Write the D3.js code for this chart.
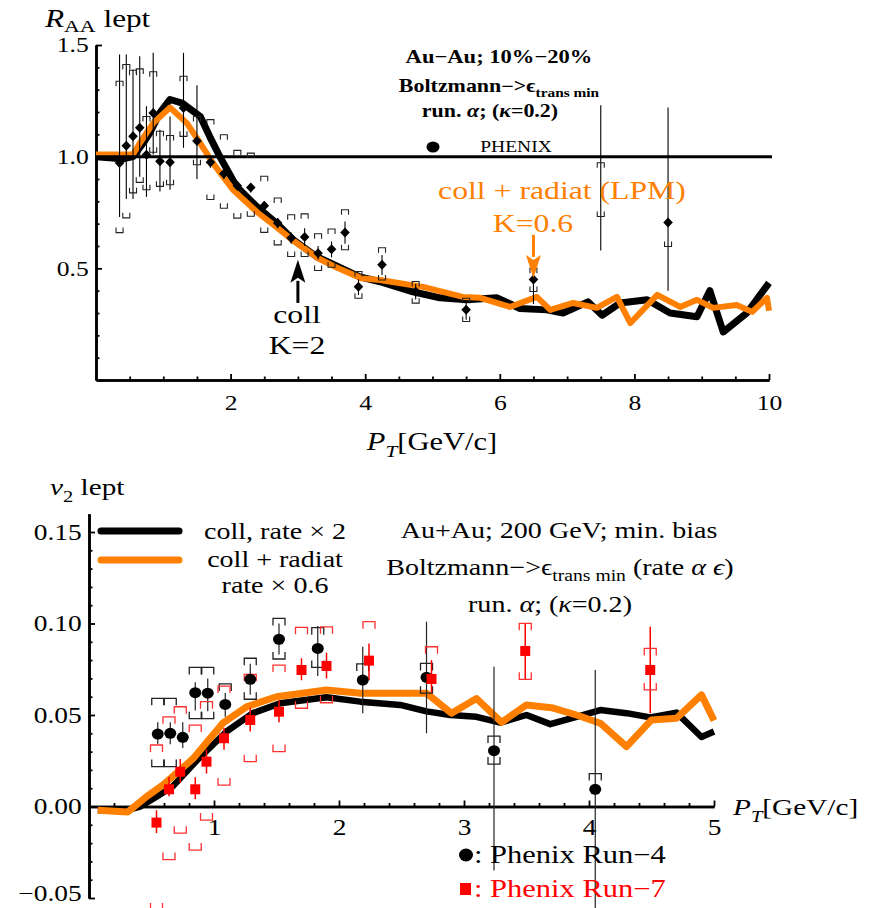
<!DOCTYPE html>
<html>
<head>
<meta charset="utf-8">
<script src="https://cdn.jsdelivr.net/npm/d3@7"></script>
<style>
  body { margin: 0; background: #fff; }
  text { font-family: "Liberation Serif", "Times New Roman", serif; }
</style>
</head>
<body>
<svg id="chart" width="874" height="908"></svg>
<script>
// ---- R_AA panel: model curves ----
var raaCollX = [0, 0.2, 0.4, 0.55, 0.7, 0.8, 0.95, 1.1, 1.28, 1.55, 1.69, 1.84, 2.09, 2.39, 2.69, 2.93, 3.28, 3.48, 3.92, 4.22, 4.71, 5.11, 5.51, 5.96, 6.3, 6.7, 6.94, 7.31, 7.52, 7.79, 8.19, 8.53, 8.93, 9.12, 9.32, 9.67, 10];
var raaCollY = [1.0, 0.995, 0.99, 1.0, 1.06, 1.107, 1.197, 1.256, 1.24, 1.18, 1.09, 1.0, 0.865, 0.776, 0.70, 0.628, 0.552, 0.524, 0.462, 0.44, 0.395, 0.368, 0.359, 0.368, 0.32, 0.314, 0.30, 0.35, 0.29, 0.345, 0.359, 0.30, 0.283, 0.40, 0.215, 0.30, 0.435];
var raaRadX = [0, 0.3, 0.55, 0.65, 0.85, 1.1, 1.35, 1.55, 1.74, 2.04, 2.4, 2.7, 2.95, 3.3, 3.6, 3.95, 4.22, 4.86, 5.45, 5.71, 6.15, 6.55, 6.75, 7.09, 7.44, 7.74, 7.94, 8.34, 8.68, 8.93, 9.17, 9.52, 9.75, 9.97, 10];
var raaRadY = [1.01, 1.01, 1.01, 1.06, 1.15, 1.22, 1.15, 1.06, 0.97, 0.85, 0.75, 0.68, 0.62, 0.545, 0.50, 0.455, 0.448, 0.417, 0.372, 0.368, 0.327, 0.372, 0.314, 0.345, 0.323, 0.372, 0.255, 0.381, 0.327, 0.359, 0.323, 0.336, 0.305, 0.368, 0.31];

// ---- PHENIX R_AA: pT, value, stat. range, syst. range ----
var raaPt     = [0.35, 0.45, 0.55, 0.65, 0.75, 0.85, 0.95, 1.1, 1.3, 1.5, 1.7, 1.9, 2.1, 2.3, 2.5, 2.7, 2.9, 3.1, 3.3, 3.5, 3.7, 3.9, 4.25, 4.75, 5.5, 6.5, 7.5, 8.5];
var raaVal    = [0.972, 1.049, 1.091, 1.129, 1.009, 1.196, 0.979, 0.975, 1.218, 1.07, 0.975, 0.924, 0.87, 0.862, 0.78, 0.703, 0.636, 0.64, 0.568, 0.586, 0.66, 0.418, 0.516, 0.396, 0.314, 0.45, null, 0.705];
var raaStatLo = [0.73, 0.81, 0.81, 0.91, 0.82, 1.01, 0.844, 0.852, 1.04, 0.90, 0.95, 0.90, 0.85, 0.84, 0.76, 0.68, 0.61, 0.60, 0.54, 0.55, 0.61, 0.38, 0.47, 0.36, 0.27, 0.34, 0.58, 0.40];
var raaStatHi = [1.457, 1.457, 1.39, 1.45, 1.226, 1.465, 1.12, 1.18, 1.465, 1.32, 1.0, 0.95, 0.89, 0.88, 0.80, 0.725, 0.66, 0.68, 0.60, 0.62, 0.71, 0.45, 0.56, 0.43, 0.35, 0.50, 1.23, 1.22];
var raaSysLo  = [0.66, 0.726, 0.838, 0.885, 0.852, 1.02, 0.867, 0.874, 1.091, 0.964, 0.808, 0.769, 0.725, 0.733, 0.661, 0.605, 0.553, 0.553, 0.49, 0.505, 0.583, 0.366, 0.448, 0.344, 0.262, 0.396, 0.732, 0.598];
var raaSysHi  = [1.338, 1.413, 1.387, 1.393, 1.18, 1.38, 1.114, 1.095, 1.36, 1.18, 1.166, 1.098, 1.028, 1.016, 0.912, 0.815, 0.74, 0.744, 0.655, 0.676, 0.762, 0.486, 0.592, 0.441, 0.366, 0.50, 0.973, null];

var raaXTicks = [2, 4, 6, 8, 10];
var raaYTicks = [0.5, 1.0, 1.5];

// ---- v2 panel: model curves ----
var v2CollX = [0.07, 0.30, 0.41, 0.54, 0.67, 0.86, 1.10, 1.31, 1.53, 1.90, 2.17, 2.49, 2.70, 2.89, 3.10, 3.29, 3.50, 3.69, 3.90, 4.09, 4.30, 4.49, 4.70, 4.90, 5.0];
var v2CollY = [-0.002, -0.002, 0.0, 0.0054, 0.011, 0.025, 0.041, 0.051, 0.0564, 0.0597, 0.0573, 0.0555, 0.052, 0.050, 0.049, 0.0458, 0.050, 0.045, 0.049, 0.0527, 0.051, 0.0487, 0.0513, 0.038, 0.041];
var v2RadX = [0.07, 0.31, 0.46, 0.59, 0.73, 0.83, 1.07, 1.26, 1.50, 1.90, 2.17, 2.70, 2.90, 3.10, 3.30, 3.50, 3.70, 3.90, 4.09, 4.30, 4.50, 4.70, 4.90, 5.0];
var v2RadY = [-0.002, -0.003, 0.0054, 0.0117, 0.020, 0.026, 0.0455, 0.0545, 0.060, 0.0637, 0.0619, 0.0619, 0.051, 0.059, 0.046, 0.0555, 0.054, 0.050, 0.0455, 0.0327, 0.0473, 0.0482, 0.061, 0.047];

// ---- PHENIX Run-4 v2 ----
var r4Pt     = [0.55, 0.65, 0.75, 0.85, 0.95, 1.09, 1.29, 1.52, 1.83, 2.19, 2.70, 3.24, 4.05];
var r4Val    = [0.0396, 0.040, 0.0378, 0.0622, 0.0619, 0.0558, 0.0695, 0.0914, 0.0864, 0.0691, 0.0706, 0.0305, 0.0094];
var r4StatLo = [0.034, 0.034, 0.032, 0.0524, 0.052, 0.049, 0.061, 0.083, 0.0713, 0.0509, 0.040, -0.035, -0.056];
var r4StatHi = [0.046, 0.046, 0.046, 0.0679, 0.070, 0.062, 0.078, 0.100, 0.0986, 0.0873, 0.101, 0.0764, 0.0746];
var r4SysLo  = [0.0218, 0.0218, null, 0.048, 0.048, null, 0.0586, 0.0806, 0.076, null, 0.0619, 0.0232, null];
var r4SysHi  = [0.0591, 0.0591, null, 0.076, 0.076, 0.067, 0.081, 0.1028, 0.0977, 0.0779, 0.0782, 0.0385, 0.018];

// ---- PHENIX Run-7 v2 ----
var r7Pt     = [0.54, 0.64, 0.73, 0.85, 0.94, 1.08, 1.29, 1.52, 1.70, 1.90, 2.24, 2.74, 3.49, 4.49];
var r7Val    = [-0.0088, 0.0094, 0.019, 0.0094, 0.0245, 0.0373, 0.0473, 0.0518, 0.0746, 0.0768, 0.0797, 0.0697, 0.085, 0.0746];
var r7StatLo = [-0.0145, 0.0056, 0.013, 0.004, 0.018, 0.031, 0.041, 0.046, 0.069, 0.070, 0.069, 0.062, 0.0691, 0.0509];
var r7StatHi = [-0.002, 0.0162, 0.026, 0.016, 0.031, 0.043, 0.054, 0.058, 0.081, 0.084, 0.0891, 0.080, 0.1001, 0.0982];
var r7SysLo  = [-0.0565, -0.029, -0.0146, -0.0238, -0.0074, 0.0117, 0.0245, 0.030, 0.0537, 0.0567, null, null, 0.0695, 0.0637];
var r7SysHi  = [0.0336, 0.049, 0.0545, 0.0445, 0.0573, 0.0658, 0.0722, 0.0773, 0.0979, 0.0982, 0.101, 0.0873, 0.1001, 0.0864];

var v2XTicks = [1, 2, 3, 4, 5];
var v2YTicks = [-0.05, 0, 0.05, 0.10, 0.15];

var ORANGE = '#ff8000', RED = '#ff0000';
var SX = 1.22; // horizontal stretch of all lettering

var svg = d3.select('#chart');

function zip(xs, ys) {
  return xs.map(function(x, i) { return { x: x, y: ys[i] }; });
}
function points(pt, val, slo, shi, ylo, yhi) {
  return pt.map(function(x, i) {
    return { x: x, y: val[i], lo: slo[i], hi: shi[i], sLo: ylo[i], sHi: yhi[i] };
  });
}

// rich text: parts are [string, flags]; flags 'i' italic, 's' subscript
function label(g, x, y, parts, o) {
  var drop = o.size * (o.drop || 0.28);
  var t = g.append('text')
    .attr('transform', 'translate(' + x + ',' + y + ') scale(' + (o.sx || SX) + ',1)')
    .attr('text-anchor', o.anchor || 'middle')
    .attr('font-size', o.size)
    .attr('fill', o.color || '#000')
    .attr('font-weight', o.bold ? 'bold' : null);
  var sub = false;
  parts.forEach(function(p) {
    if (typeof p === 'string') p = [p, ''];
    var s = t.append('tspan').text(p[0]);
    if (p[1].indexOf('i') >= 0) s.attr('font-style', 'italic');
    var wantSub = p[1].indexOf('s') >= 0;
    if (wantSub) s.attr('font-size', o.size * 0.7);
    if (wantSub && !sub) s.attr('dy', drop);
    if (!wantSub && sub) s.attr('dy', -drop);
    sub = wantSub;
  });
  return t;
}

// Mathematica-like axes: ticks point into the plot
function axes(g, x, y, xAt, yAt, xMajor, xMinor, xFmt, yMajor, yMinor, yFmt, fs) {
  var gx = g.append('g').attr('transform', 'translate(0,' + y(xAt) + ')');
  gx.append('g').call(d3.axisBottom(x).tickValues(xMinor).tickSize(-3.5).tickSizeOuter(0).tickFormat(''));
  gx.append('g').call(d3.axisBottom(x).tickValues(xMajor).tickSize(-6).tickSizeOuter(0).tickPadding(13).tickFormat(xFmt));
  var gy = g.append('g').attr('transform', 'translate(' + x(yAt) + ',0)');
  gy.append('g').call(d3.axisLeft(y).tickValues(yMinor).tickSize(-3.5).tickSizeOuter(0).tickFormat(''));
  gy.append('g').call(d3.axisLeft(y).tickValues(yMajor).tickSize(-6).tickSizeOuter(0).tickPadding(6).tickFormat(yFmt));
  g.selectAll('.domain').attr('stroke', '#000').attr('stroke-width', 2.6);
  g.selectAll('.tick line').attr('stroke', '#000').attr('stroke-width', 1.8);
  g.selectAll('.tick text')
    .attr('font-family', null)
    .attr('font-size', fs).attr('fill', '#000')
    .attr('transform', 'scale(' + SX + ',1)');
  return { gx: gx, gy: gy };
}

function bracket(xpx, ypx, w, l, up) {
  var s = up ? 1 : -1;
  return 'M' + (xpx - w / 2) + ',' + (ypx + s * l) + 'V' + ypx + 'H' + (xpx + w / 2) + 'V' + (ypx + s * l);
}

function errorBars(g, data, x, y, o) {
  g.selectAll(null).data(data).enter().append('line')
    .attr('x1', function(d) { return x(d.x); }).attr('x2', function(d) { return x(d.x); })
    .attr('y1', function(d) { return y(d.lo); }).attr('y2', function(d) { return y(d.hi); })
    .attr('stroke', o.color).attr('stroke-width', o.lw);
  g.selectAll(null).data(data.filter(function(d) { return d.sHi != null; })).enter().append('path')
    .attr('d', function(d) { return bracket(x(d.x), y(d.sHi), o.w, o.l, true); })
    .attr('fill', 'none').attr('stroke', o.sysColor).attr('stroke-width', o.slw);
  g.selectAll(null).data(data.filter(function(d) { return d.sLo != null; })).enter().append('path')
    .attr('d', function(d) { return bracket(x(d.x), y(d.sLo), o.w, o.l, false); })
    .attr('fill', 'none').attr('stroke', o.sysColor).attr('stroke-width', o.slw);
}

// arrows to the model curves
function arrow(g, xpx, tip, tail, color) {
  var dir = tail > tip ? 1 : -1;
  var headEnd = tip + dir * 23;
  g.append('line').attr('x1', xpx).attr('x2', xpx).attr('y1', headEnd - dir * 2).attr('y2', tail)
    .attr('stroke', color).attr('stroke-width', 3);
  g.append('path')
    .attr('d', 'M' + xpx + ',' + tip + 'L' + (xpx - 7.5) + ',' + headEnd + 'L' + xpx + ',' + (headEnd - dir * 5) +
      'L' + (xpx + 7.5) + ',' + headEnd + 'Z')
    .attr('fill', color);
}

/* ================= R_AA ================= */
var xTop = d3.scaleLinear().domain([0, 10]).range([96, 769]);
var yTop = d3.scaleLinear().domain([0, 1.5]).range([380, 45]);
var raaG = svg.append('g');

var topAx = axes(raaG, xTop, yTop, 0, 0, raaXTicks, d3.range(0.5, 10, 0.5).filter(function(v) { return v % 2; }), d3.format('d'),
  raaYTicks, d3.range(0.1, 1.45, 0.1).filter(function(v) { return Math.abs(v * 2 - Math.round(v * 2)) > 1e-6; }),
  d3.format('.1f'), 21);
topAx.gx.selectAll('.tick text').attr('y', 15);

var lineTop = d3.line().x(function(d) { return xTop(d.x); }).y(function(d) { return yTop(d.y); });
raaG.append('path').datum(zip(raaCollX, raaCollY)).attr('d', lineTop)
  .attr('fill', 'none').attr('stroke', '#000').attr('stroke-width', 7).attr('stroke-linejoin', 'round');
raaG.append('path').datum(zip(raaRadX, raaRadY)).attr('d', lineTop)
  .attr('fill', 'none').attr('stroke', ORANGE).attr('stroke-width', 6).attr('stroke-linejoin', 'round');

// R_AA = 1 reference
raaG.append('line').attr('x1', xTop(0)).attr('x2', xTop(10) + 3)
  .attr('y1', yTop(1)).attr('y2', yTop(1)).attr('stroke', '#000').attr('stroke-width', 3);

var raaPts = points(raaPt, raaVal, raaStatLo, raaStatHi, raaSysLo, raaSysHi);
errorBars(raaG, raaPts, xTop, yTop, { color: '#000', lw: 1.1, sysColor: '#222', slw: 1.1, w: 7, l: 5 });
raaG.selectAll('.dia').data(raaPts.filter(function(d) { return d.y != null; })).enter().append('path')
  .attr('class', 'dia')
  .attr('transform', function(d) { return 'translate(' + xTop(d.x) + ',' + yTop(d.y) + ')'; })
  .attr('d', 'M0,-5L4.8,0L0,5L-4.8,0Z').attr('fill', '#000');

label(raaG, 45, 27, [['R', 'i'], ['AA', 's'], ' lept'], { size: 25, anchor: 'start', sx: 1.25, drop: 0.2 });
label(raaG, 432, 450, [['P', 'i'], ['T', 'is'], '[GeV/c]'], { size: 25 });

label(raaG, 499, 63, ['Au\u2212Au; 10%\u221220%'], { size: 18.5, bold: true });
label(raaG, 499, 92, ['Boltzmann\u2212>\u03f5', ['trans min', 's']], { size: 18, bold: true });
label(raaG, 490, 117, ['run. ', ['\u03b1', 'i'], '; (', ['\u03ba', 'i'], '=0.2)'], { size: 18, bold: true });
raaG.append('ellipse').attr('cx', 433).attr('cy', 147).attr('rx', 6.5).attr('ry', 5.5).attr('fill', '#000');
label(raaG, 516, 152, ['PHENIX'], { size: 16 });

label(raaG, 562, 199, ['coll + radiat (LPM)'], { size: 26, color: ORANGE });
label(raaG, 533, 232, ['K=0.6'], { size: 26, color: ORANGE });
label(raaG, 297, 323, ['coll'], { size: 26 });
label(raaG, 297, 354, ['K=2'], { size: 26 });

arrow(raaG, xTop(3.0), yTop(0.538), yTop(0.345), '#000');
arrow(raaG, xTop(6.5), yTop(0.457), yTop(0.65), ORANGE);

/* ================= v2 ================= */
var xBot = d3.scaleLinear().domain([0, 5]).range([89, 714]);
var yBot = d3.scaleLinear().domain([-0.05, 0.16]).range([898, 513.7]);
var v2G = svg.append('g');

var fmtV2 = function(v) { return d3.format('.2f')(v).replace('-', '\u2212'); };
var botAx = axes(v2G, xBot, yBot, 0, 0, v2XTicks, d3.range(0.2, 5, 0.2).filter(function(v) { return Math.abs(v - Math.round(v)) > 1e-6; }), d3.format('d'),
  v2YTicks, d3.range(-0.04, 0.16, 0.01).filter(function(v) { return Math.abs(v * 20 - Math.round(v * 20)) > 1e-6; }),
  fmtV2, 22.5);
// lowest label sits on the bottom edge; lift it a little
botAx.gy.selectAll('.tick text').filter(function(d) { return d < 0; }).attr('dy', '0.1em');

var lineBot = d3.line().x(function(d) { return xBot(d.x); }).y(function(d) { return yBot(d.y); });
v2G.append('path').datum(zip(v2CollX, v2CollY)).attr('d', lineBot)
  .attr('fill', 'none').attr('stroke', '#000').attr('stroke-width', 6.5).attr('stroke-linejoin', 'round');
v2G.append('path').datum(zip(v2RadX, v2RadY)).attr('d', lineBot)
  .attr('fill', 'none').attr('stroke', ORANGE).attr('stroke-width', 7).attr('stroke-linejoin', 'round');

var r4 = points(r4Pt, r4Val, r4StatLo, r4StatHi, r4SysLo, r4SysHi);
var r7 = points(r7Pt, r7Val, r7StatLo, r7StatHi, r7SysLo, r7SysHi);
errorBars(v2G, r4, xBot, yBot, { color: '#222', lw: 1.2, sysColor: '#222', slw: 1.3, w: 12, l: 7 });
errorBars(v2G, r7, xBot, yBot, { color: RED, lw: 1.5, sysColor: '#ff3030', slw: 1.3, w: 12, l: 7 });
v2G.selectAll('.r4').data(r4).enter().append('ellipse').attr('class', 'r4')
  .attr('cx', function(d) { return xBot(d.x); }).attr('cy', function(d) { return yBot(d.y); })
  .attr('rx', 6).attr('ry', 5.5).attr('fill', '#000');
v2G.selectAll('.r7').data(r7).enter().append('rect').attr('class', 'r7')
  .attr('x', function(d) { return xBot(d.x) - 5; }).attr('y', function(d) { return yBot(d.y) - 5; })
  .attr('width', 10).attr('height', 10).attr('fill', RED);

label(v2G, 50, 495, [['v', 'i'], ['2', 's'], ' lept'], { size: 24, anchor: 'start' });
label(v2G, 733, 815, [['P', 'i'], ['T', 'is'], '[GeV/c]'], { size: 24, anchor: 'start' });

// legend of the model curves
v2G.append('line').attr('x1', 101).attr('x2', 179).attr('y1', 531).attr('y2', 531)
  .attr('stroke', '#000').attr('stroke-width', 7).attr('stroke-linecap', 'round');
v2G.append('line').attr('x1', 101).attr('x2', 179).attr('y1', 560).attr('y2', 560)
  .attr('stroke', ORANGE).attr('stroke-width', 7).attr('stroke-linecap', 'round');
label(v2G, 275, 539, ['coll, rate \u00d7 2'], { size: 23 });
label(v2G, 275, 567, ['coll + radiat'], { size: 23 });
label(v2G, 275, 593, ['rate \u00d7 0.6'], { size: 23 });

label(v2G, 559, 538, ['Au+Au; 200 GeV; min. bias'], { size: 23 });
label(v2G, 560, 575, ['Boltzmann\u2212>\u03f5', ['trans min', 's'], ' (rate ', ['\u03b1', 'i'], ' ', ['\u03f5', 'i'], ')'], { size: 23 });
label(v2G, 550, 612, ['run. ', ['\u03b1', 'i'], '; (', ['\u03ba', 'i'], '=0.2)'], { size: 23 });

// legend of the data sets
v2G.append('ellipse').attr('cx', 466).attr('cy', 855).attr('rx', 7).attr('ry', 6.5).attr('fill', '#000');
label(v2G, 474, 863, [': Phenix Run\u22124'], { size: 25, anchor: 'start' });
v2G.append('rect').attr('x', 460).attr('y', 883).attr('width', 11).attr('height', 12).attr('fill', RED);
label(v2G, 474, 897, [': Phenix Run\u22127'], { size: 25, anchor: 'start', color: RED });
</script>
</body>
</html>
